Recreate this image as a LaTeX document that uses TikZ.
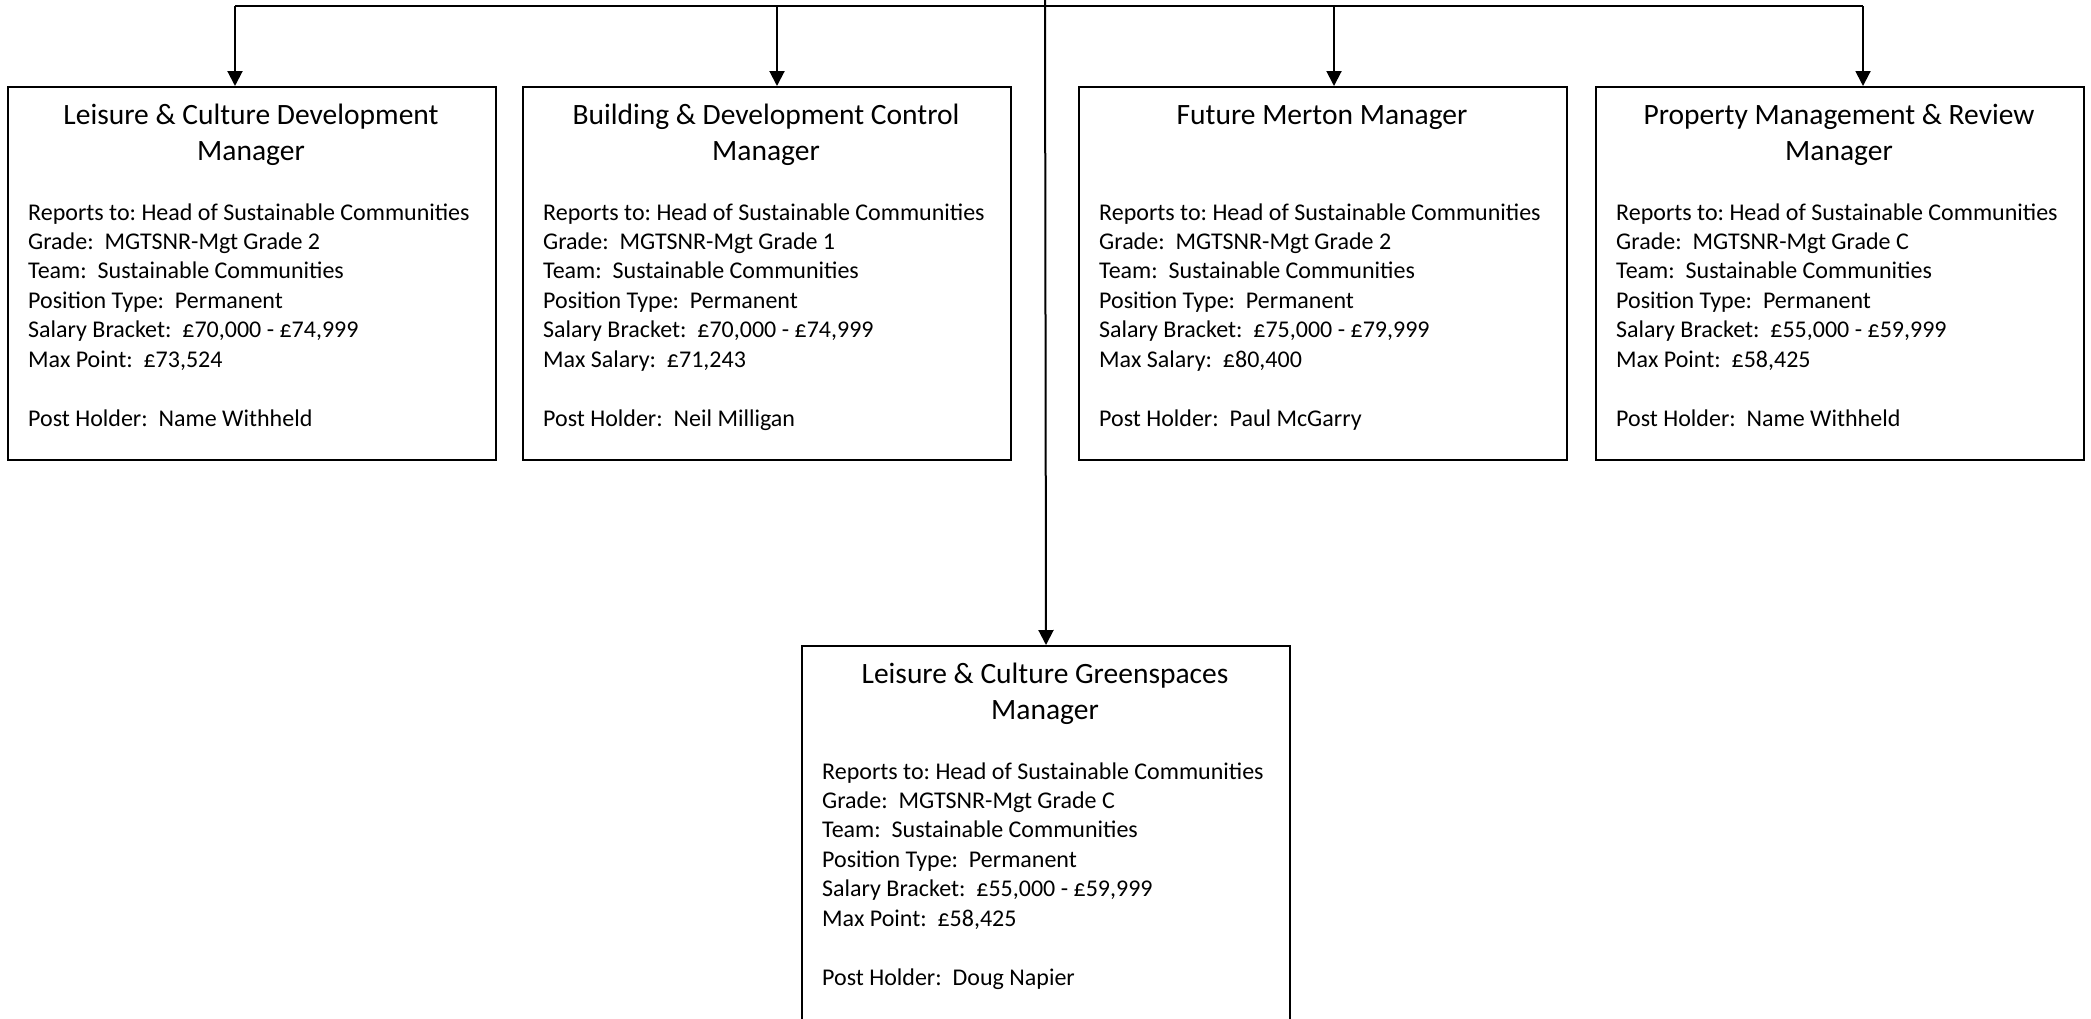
\documentclass[tikz,border=0pt]{standalone}
\usepackage{fontspec}
\setmainfont{Carlito}
\usetikzlibrary{arrows.meta}
\frenchspacing
\newcommand\orgunit[7]{% name, left, top, height, title lines, body lines, post holder
  \node[box, minimum height=#4pt] (#1) at (#2,#3) {};
  \foreach \ttline [count=\i] in {#5}
    \node[ttl] (#1-t\i) at (#2+244, #3+38+\i*36-36) {\ttline};
  \foreach \bdline [count=\i] in {#6}
    \node[bdy] (#1-b\i) at (#2+21, #3+134+\i*29.4-29.4) {\bdline};
  \node[bdy] (#1-ph) at (#2+21, #3+340) {#7};
}
\begin{document}
\begin{tikzpicture}[x=1pt,y=-1pt,
  box/.style={draw=black, line width=2pt, minimum width=488pt, inner sep=0pt, anchor=north west},
  ttl/.style={font=\fontsize{29.5}{35}\selectfont, anchor=base, inner sep=0pt},
  bdy/.style={font=\fontsize{24}{29}\selectfont, anchor=base west, inner sep=0pt},
  conn/.style={line width=2pt},
  arr/.style={line width=2pt, -{Triangle[width=15pt,length=15pt]}}]
\clip (0,0) rectangle (2091,1018);
\fill[white] (0,0) rectangle (2091,1018);

\orgunit{u1}{7}{86}{373}{Leisure \& Culture Development, Manager}
  {Reports to: Head of Sustainable Communities, Grade:~ MGTSNR-Mgt Grade 2, Team:~ Sustainable Communities, Position Type:~ Permanent, {Salary Bracket:~ £70,000 - £74,999}, {Max Point:~ £73,524}}
  {Post Holder:~ Name Withheld}
\orgunit{u2}{522}{86}{373}{Building \& Development Control, Manager}
  {Reports to: Head of Sustainable Communities, Grade:~ MGTSNR-Mgt Grade 1, Team:~ Sustainable Communities, Position Type:~ Permanent, {Salary Bracket:~ £70,000 - £74,999}, {Max Salary:~ £71,243}}
  {Post Holder:~ Neil Milligan}
\orgunit{u3}{1078}{86}{373}{Future Merton Manager}
  {Reports to: Head of Sustainable Communities, Grade:~ MGTSNR-Mgt Grade 2, Team:~ Sustainable Communities, Position Type:~ Permanent, {Salary Bracket:~ £75,000 - £79,999}, {Max Salary:~ £80,400}}
  {Post Holder:~ Paul McGarry}
\orgunit{u4}{1595}{86}{373}{Property Management \& Review, Manager}
  {Reports to: Head of Sustainable Communities, Grade:~ MGTSNR-Mgt Grade C, Team:~ Sustainable Communities, Position Type:~ Permanent, {Salary Bracket:~ £55,000 - £59,999}, {Max Point:~ £58,425}}
  {Post Holder:~ Name Withheld}
\orgunit{u5}{801}{645}{400}{Leisure \& Culture Greenspaces, Manager}
  {Reports to: Head of Sustainable Communities, Grade:~ MGTSNR-Mgt Grade C, Team:~ Sustainable Communities, Position Type:~ Permanent, {Salary Bracket:~ £55,000 - £59,999}, {Max Point:~ £58,425}}
  {Post Holder:~ Doug Napier}

\coordinate (top) at (1045,0);
\coordinate (h1) at (235,6);
\coordinate (h2) at (777,6);
\coordinate (h3) at (1334,6);
\coordinate (h4) at (1863,6);
\draw[conn] (h1) -- (h4);
\draw[arr] (h1) -- (h1 |- u1.north);
\draw[arr] (h2) -- (h2 |- u2.north);
\draw[arr] (h3) -- (h3 |- u3.north);
\draw[arr] (h4) -- (h4 |- u4.north);
\draw[arr] (top) -- (u5.north);
\end{tikzpicture}
\end{document}
